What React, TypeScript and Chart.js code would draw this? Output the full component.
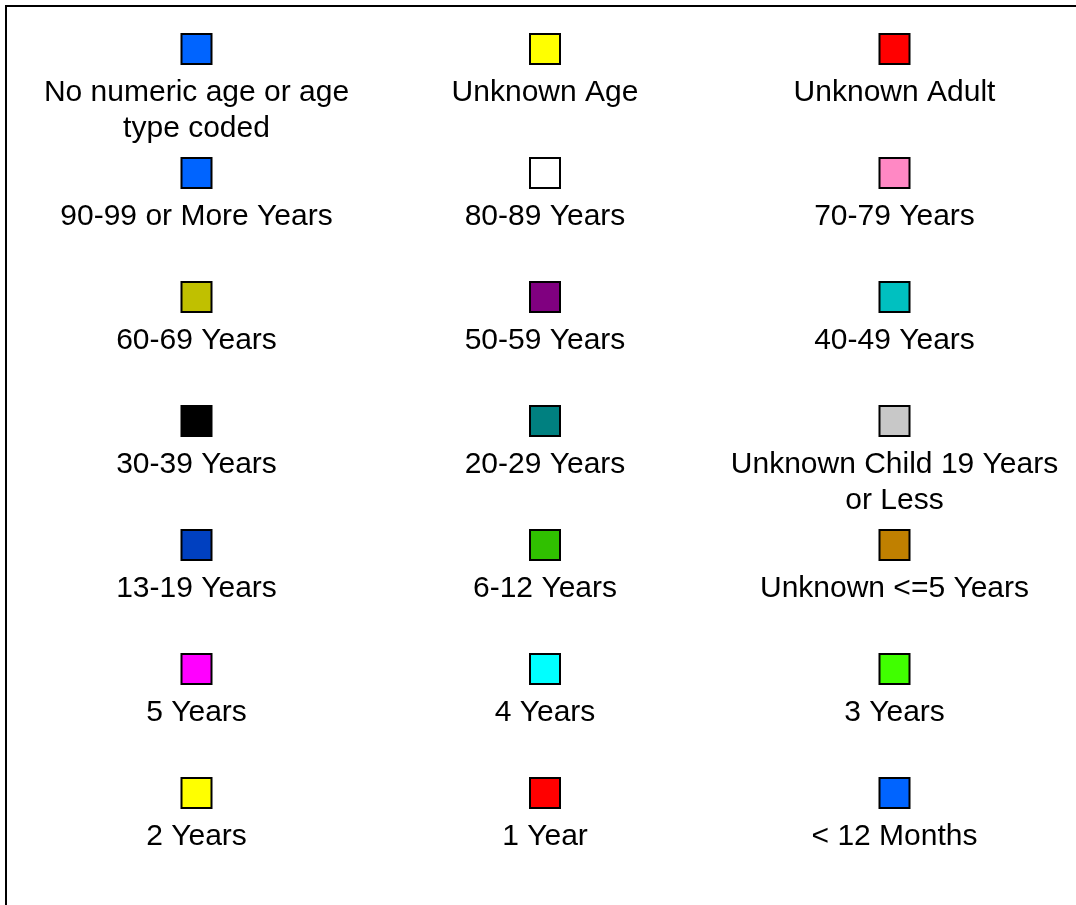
import React, { useEffect, useRef } from "react";
import { Chart, registerables } from "chart.js";

Chart.register(...registerables);

const categories: string[] = [
  "No numeric age or age type coded",
  "Unknown Age",
  "Unknown Adult",
  "90-99 or More Years",
  "80-89 Years",
  "70-79 Years",
  "60-69 Years",
  "50-59 Years",
  "40-49 Years",
  "30-39 Years",
  "20-29 Years",
  "Unknown Child 19 Years or Less",
  "13-19 Years",
  "6-12 Years",
  "Unknown <=5 Years",
  "5 Years",
  "4 Years",
  "3 Years",
  "2 Years",
  "1 Year",
  "< 12 Months",
];

const seriesColors: string[] = [
  "#0064ff",
  "#ffff00",
  "#ff0000",
  "#0064ff",
  "#ffffff",
  "#ff88c4",
  "#c0c000",
  "#800080",
  "#00c0c0",
  "#000000",
  "#008080",
  "#c8c8c8",
  "#0040c0",
  "#30c000",
  "#c08000",
  "#ff00ff",
  "#00ffff",
  "#40ff00",
  "#ffff00",
  "#ff0000",
  "#0064ff",
];

const gridLegendPlugin = {
  id: "gridLegend",
  afterDraw(chart: any) {
    const ctx: CanvasRenderingContext2D = chart.ctx;
    const W = chart.width;
    const H = chart.height;
    ctx.save();
    // frame
    ctx.strokeStyle = "#000";
    ctx.lineWidth = 2;
    ctx.beginPath();
    ctx.moveTo(6, H + 5);
    ctx.lineTo(6, 6);
    ctx.lineTo(W + 5, 6);
    ctx.stroke();

    const colX = [196.5, 545, 894.5];
    const rowTop0 = 33;
    const rowStep = 124;
    const box = 30;
    const maxW = 345;
    const lineH = 36;
    ctx.font = "30px 'Liberation Sans', Arial, sans-serif";
    ctx.textAlign = "center";
    ctx.textBaseline = "alphabetic";

    chart.data.datasets.forEach((ds: any, i: number) => {
      const col = i % 3;
      const row = Math.floor(i / 3);
      const cx = colX[col];
      const top = rowTop0 + row * rowStep;
      ctx.fillStyle = ds.backgroundColor;
      ctx.fillRect(cx - box / 2, top + 1, box, box);
      ctx.strokeStyle = "#000";
      ctx.lineWidth = 2;
      ctx.strokeRect(cx - box / 2, top + 1, box, box);

      // wrap text
      const words = String(ds.label).split(" ");
      const lines: string[] = [];
      let cur = "";
      words.forEach((w) => {
        const t = cur ? cur + " " + w : w;
        if (ctx.measureText(t).width > maxW && cur) {
          lines.push(cur);
          cur = w;
        } else {
          cur = t;
        }
      });
      if (cur) lines.push(cur);
      ctx.fillStyle = "#000";
      lines.forEach((ln, k) => {
        ctx.fillText(ln, cx, top + 68 + k * lineH);
      });
    });
    ctx.restore();
  },
};

export default function App() {
  const canvasRef = useRef<HTMLCanvasElement | null>(null);
  useEffect(() => {
    if (!canvasRef.current) return;
    const chart = new Chart(canvasRef.current, {
      type: "bar",
      data: {
        labels: [],
        datasets: categories.map((c, i) => ({
          label: c,
          data: [],
          backgroundColor: seriesColors[i],
          borderColor: "#000",
          borderWidth: 1,
        })),
      },
      options: {
        responsive: false,
        animation: false,
        maintainAspectRatio: false,
        plugins: {
          legend: { display: false },
          title: { display: false },
          tooltip: { enabled: false },
        },
        scales: {
          x: { display: false },
          y: { display: false },
        },
      },
      plugins: [gridLegendPlugin],
    });
    return () => chart.destroy();
  }, []);
  return (
    <div style={{ position: "absolute", left: 0, top: 0, width: 1076, height: 905, background: "#fff" }}>
      <canvas ref={canvasRef} width={1076} height={905} style={{ display: "block" }} />
    </div>
  );
}
